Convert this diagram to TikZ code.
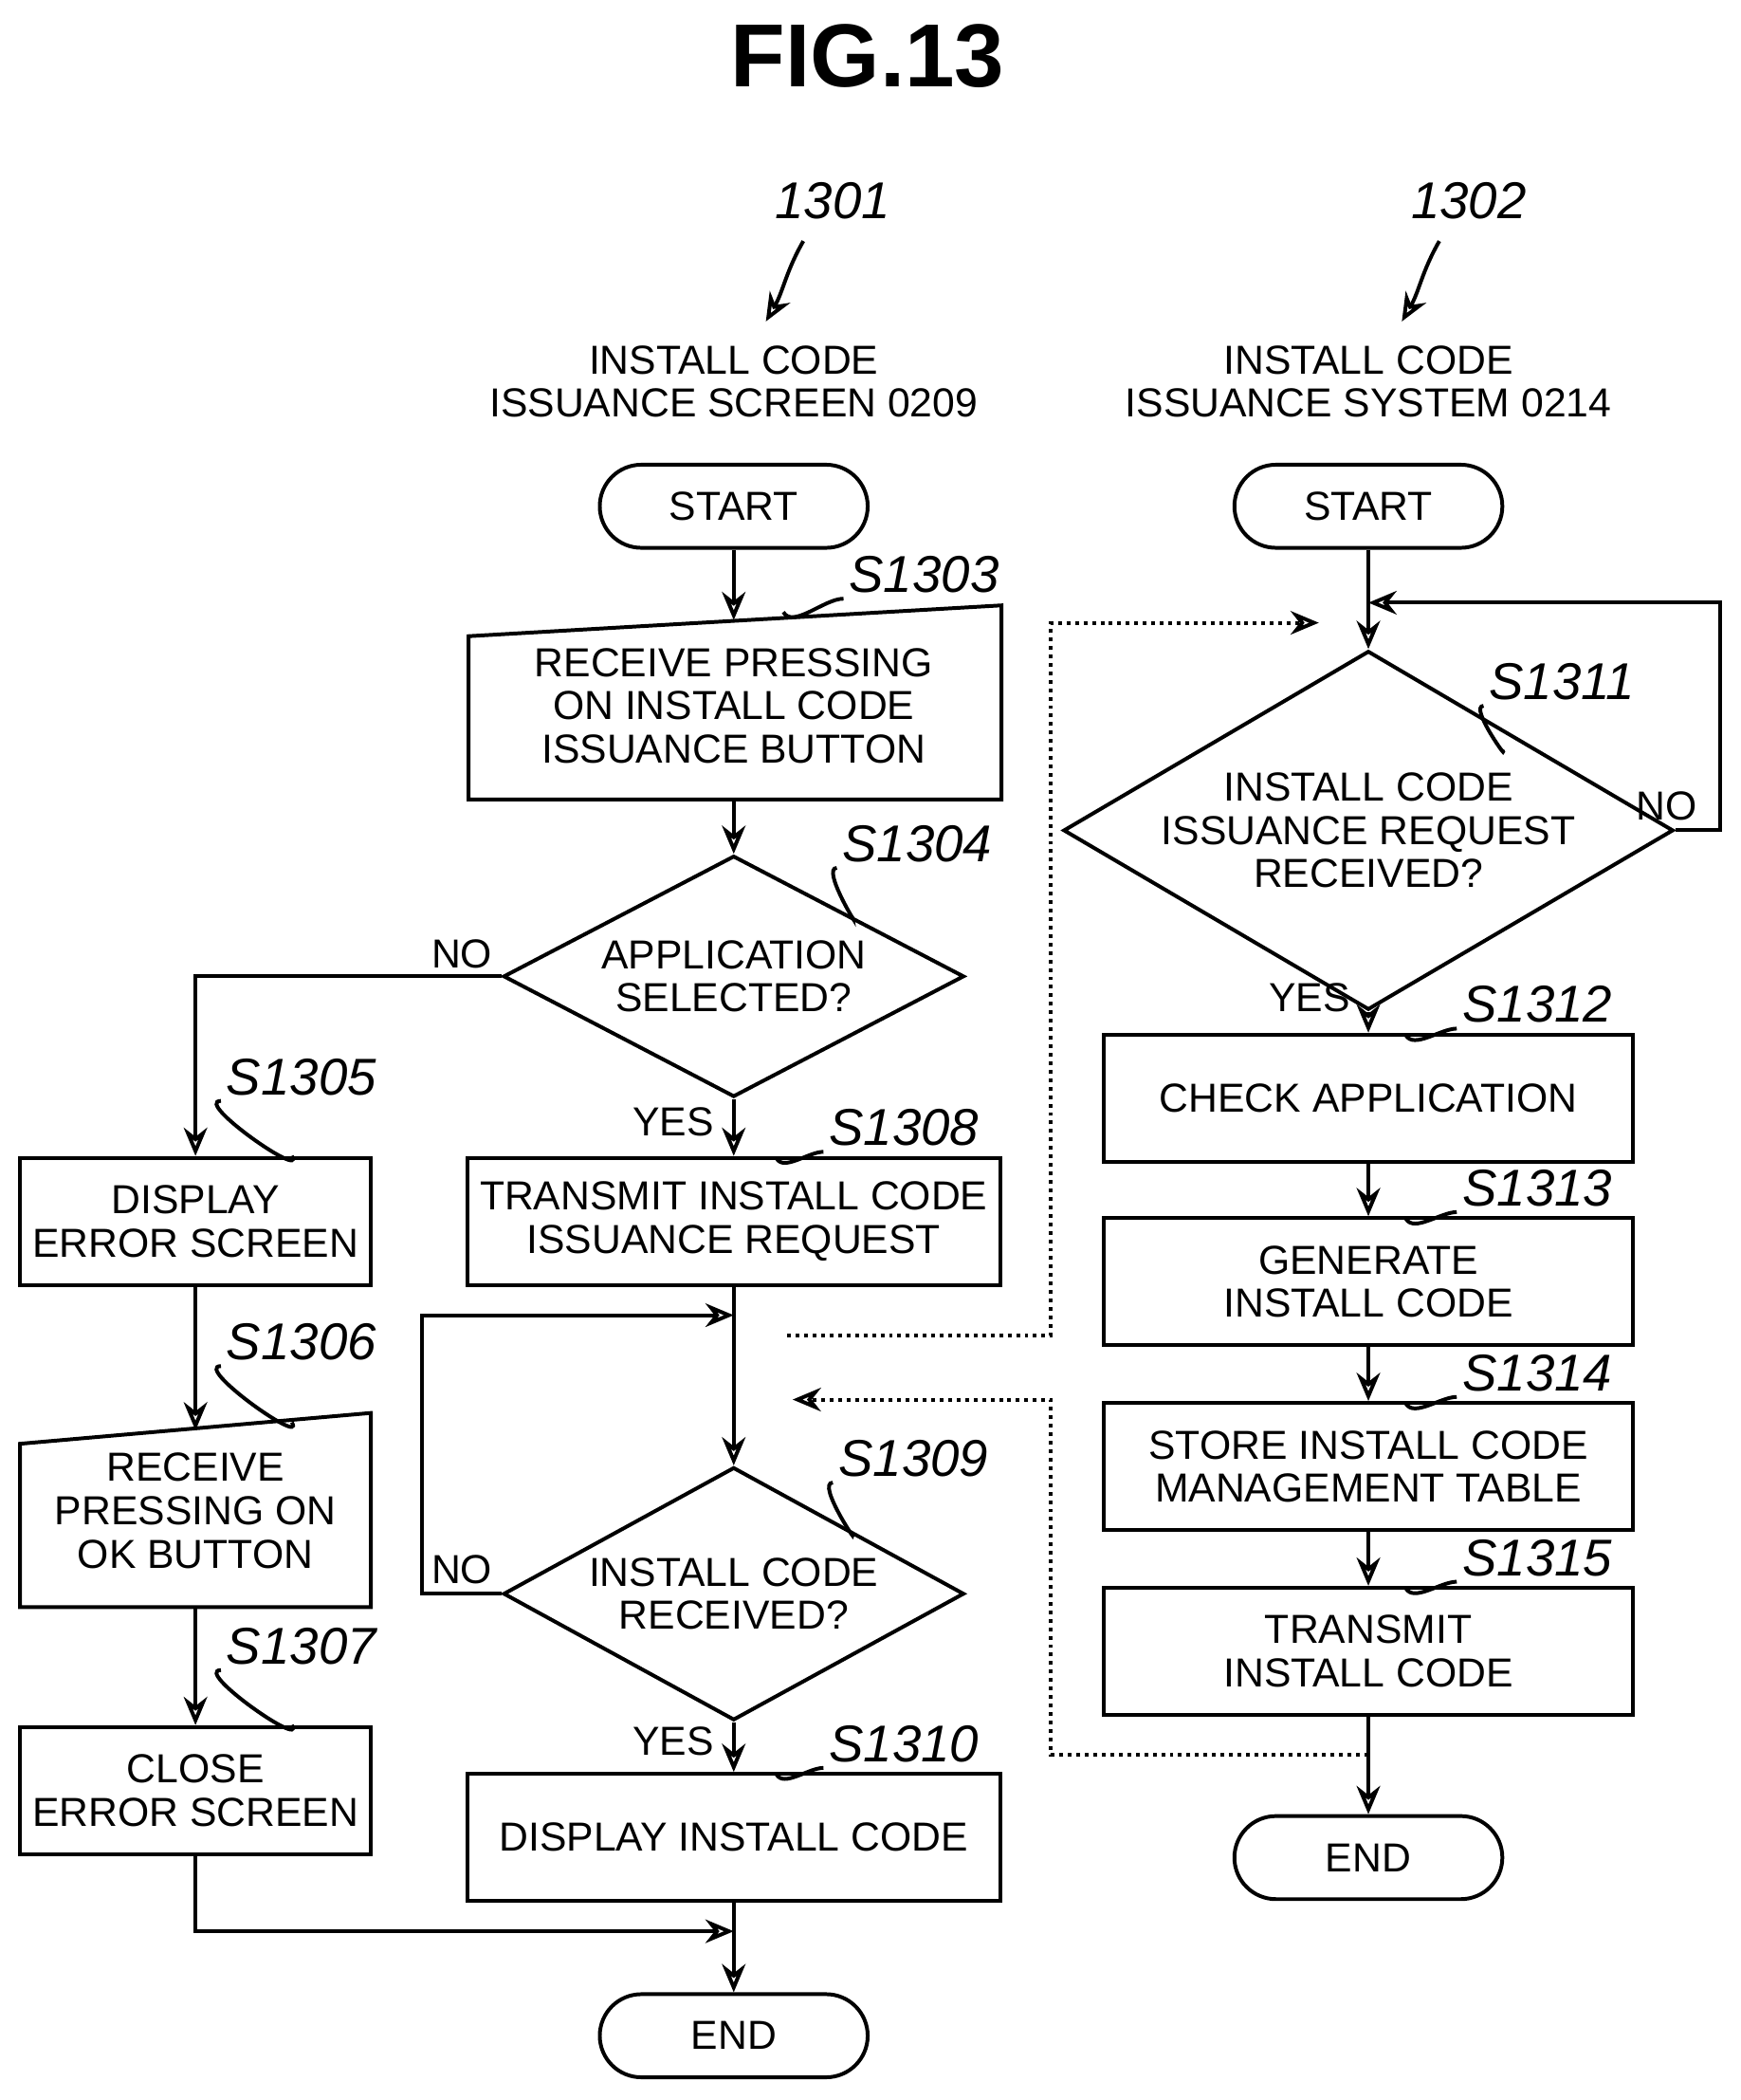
\documentclass[tikz,border=0pt]{standalone}
\usepackage{fontspec}
\setmainfont{Liberation Sans}
\usetikzlibrary{shapes.geometric,calc,arrows.meta}
\tikzset{
  txt/.style={font=\fontsize{8.6}{9.2}\selectfont, align=center},
  box/.style={txt, draw, thick, minimum width=3.98cm, minimum height=0.95cm, inner sep=0pt},
  sbox/.style={box, minimum width=2.62cm},
  term/.style={txt, draw, thick, rounded corners=0.31cm, minimum width=2cm, minimum height=0.62cm},
  dec/.style={txt, draw, thick, diamond, aspect=1.6, inner sep=0pt, minimum width=3.44cm, minimum height=1.8cm},
  stepno/.style={font=\itshape\fontsize{11}{11}\selectfont, anchor=south west, inner sep=1pt},
  lbl/.style={font=\fontsize{8.6}{9}\selectfont},
  flow/.style={thick, -{Stealth[length=6pt,width=5pt,open]}},
  msg/.style={thick, densely dotted, -{Stealth[length=6pt,width=5pt,open]}},
}
\begin{document}
\begin{tikzpicture}[x=0.01cm, y=-0.01cm]
\useasboundingbox (0,0) rectangle (1300,1568);
% title and headers
\node[font=\bfseries\fontsize{19}{19}\selectfont] (title) at (648,42) {FIG.13};
\node[font=\itshape\fontsize{11}{11}\selectfont] (n1301) at (622,150) {1301};
\node[font=\itshape\fontsize{11}{11}\selectfont] (n1302) at (1097,150) {1302};
\draw[flow] (600,180) to[out=-120,in=60] (572,240);
\draw[flow] (1075,180) to[out=-120,in=60] (1047,240);
\node[txt] (h1) at (548,285) {INSTALL CODE\\ISSUANCE SCREEN 0209};
\node[txt] (h2) at (1022,285) {INSTALL CODE\\ISSUANCE SYSTEM 0214};

% left flow
\node[term] (start1) at (548,378) {START};
\node[box, draw=none] (s1303) at (548,527) {RECEIVE PRESSING\\ON INSTALL CODE\\ISSUANCE BUTTON};
\draw[thick] (350,597) -- (748,597) -- (748,452) -- (350,475) -- cycle;
\node[dec] (s1304) at (548,729) {APPLICATION\\SELECTED?};
\node[sbox] (s1305) at (146,912) {DISPLAY\\ERROR SCREEN};
\node[sbox, draw=none, minimum height=1.45cm] (s1306) at (146,1128) {RECEIVE\\PRESSING ON\\OK BUTTON};
\draw[thick] (15,1200) -- (277,1200) -- (277,1055) -- (15,1078) -- cycle;
\node[sbox] (s1307) at (146,1337) {CLOSE\\ERROR SCREEN};
\node[box] (s1308) at (548,912) {TRANSMIT INSTALL CODE\\ISSUANCE REQUEST};
\coordinate (m1) at (548,982);
\node[dec] (s1309) at (548,1190) {INSTALL CODE\\RECEIVED?};
\node[box] (s1310) at (548,1372) {DISPLAY INSTALL CODE};
\coordinate (m2) at (548,1442);
\node[term] (end1) at (548,1520) {END};

\draw[flow] (start1) -- (548,463);
\draw[flow] (548,597) -- (s1304);
\draw[flow] (s1304.west) -- (146,729) -- (s1305);
\draw[flow] (s1304) -- (s1308);
\draw[flow] (s1305) -- (146,1068);
\draw[flow] (146,1200) -- (s1307);
\draw[flow] (s1307) -- (146,1442) -- (m2);
\draw[thick] (s1308) -- (m1);
\draw[flow] (m1) -- (s1309);
\draw[flow] (s1309.west) -- (315,1190) -- (315,982) -- (m1);
\draw[flow] (s1309) -- (s1310);
\draw[thick] (s1310) -- (m2);
\draw[flow] (m2) -- (end1);
\node[lbl] at (345,712) {NO};
\node[lbl] at (503,838) {YES};
\node[lbl] at (345,1172) {NO};
\node[lbl] at (503,1300) {YES};

% right flow
\node[term] (start2) at (1022,378) {START};
\coordinate (m3) at (1022,450);
\node[dec, aspect=1.7, minimum width=4cm, minimum height=2.2cm] (s1311) at (1022,620) {INSTALL CODE\\ISSUANCE REQUEST\\RECEIVED?};
\node[box, minimum width=3.95cm] (s1312) at (1022,820) {CHECK APPLICATION};
\node[box, minimum width=3.95cm] (s1313) at (1022,957) {GENERATE\\INSTALL CODE};
\node[box, minimum width=3.95cm] (s1314) at (1022,1095) {STORE INSTALL CODE\\MANAGEMENT TABLE};
\node[box, minimum width=3.95cm] (s1315) at (1022,1233) {TRANSMIT\\INSTALL CODE};
\coordinate (m4) at (1022,1310);
\node[term] (end2) at (1022,1387) {END};

\draw[thick] (start2) -- (m3);
\draw[flow] (m3) -- (s1311);
\draw[flow] (s1311.east) -- (1285,620) -- (1285,450) -- (m3);
\draw[flow] (s1311) -- (s1312);
\draw[flow] (s1312) -- (s1313);
\draw[flow] (s1313) -- (s1314);
\draw[flow] (s1314) -- (s1315);
\draw[flow] (s1315) -- (end2);
\node[lbl] at (1245,602) {NO};
\node[lbl] at (978,745) {YES};

% messages
\draw[msg] (588,997) -- (785,997) -- (785,465) -- (985,465);
\draw[msg] (m4) -- (785,1310) -- (785,1045) -- (592,1045);

% step labels
\foreach \n/\ax/\ay/\lx/\ly in {1303/585/457/630/447, 1304/636/684/625/648, 1305/218/863/165/822,
  1306/218/1062/165/1020, 1307/218/1288/165/1247, 1308/580/865/615/860, 1309/636/1145/622/1107,
  1310/580/1325/615/1320, 1311/1122/560/1108/527, 1312/1050/773/1088/768, 1313/1050/910/1088/905,
  1314/1050/1048/1088/1043, 1315/1050/1186/1088/1181}
{
  \node[stepno] (l\n) at (\lx,\ly) {S\n};
  \draw[thick] (\ax,\ay) to[out=-60,in=180,looseness=0.8] (l\n.south west);
}
\end{tikzpicture}
\end{document}
